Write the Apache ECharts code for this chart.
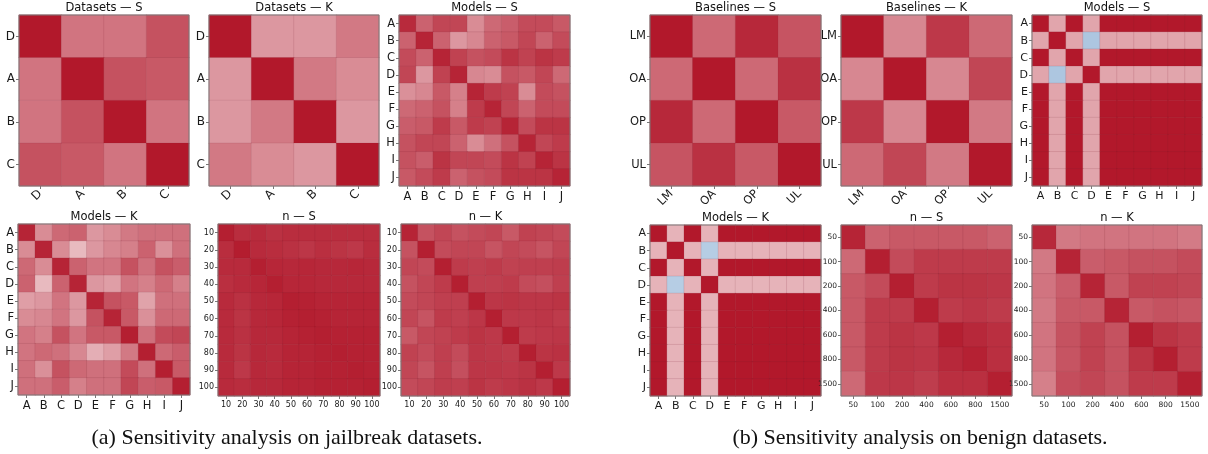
<!DOCTYPE html>
<html>
<head>
<meta charset="utf-8">
<script src="https://cdn.jsdelivr.net/npm/echarts@6/dist/echarts.min.js"></script>
<style>
  html, body { margin: 0; padding: 0; background: #ffffff; }
  #chart { width: 1208px; height: 454px; }
</style>
</head>
<body>
<div id="chart"></div>
<script>
// ---- tick labels ----
const letterLabels = ['A', 'B', 'C', 'D', 'E', 'F', 'G', 'H', 'I', 'J'];
const datasetLabels = ['D', 'A', 'B', 'C'];
const baselineLabels = ['LM', 'OA', 'OP', 'UL'];
const nJailbreakLabels = ['10', '20', '30', '40', '50', '60', '70', '80', '90', '100'];
const nBenignLabels = ['50', '100', '200', '400', '600', '800', '1500'];

// ---- (a) jailbreak datasets: similarity matrices (rows top to bottom) ----
const datasetsS = [
  [1.00, 0.60, 0.60, 0.75],
  [0.60, 1.00, 0.75, 0.72],
  [0.60, 0.75, 1.00, 0.60],
  [0.75, 0.72, 0.60, 1.00]
];
const datasetsK = [
  [1.00, 0.45, 0.45, 0.58],
  [0.45, 1.00, 0.58, 0.50],
  [0.45, 0.58, 1.00, 0.45],
  [0.58, 0.50, 0.45, 1.00]
];
const modelsSJailbreak = [
  [0.92, 0.68, 0.80, 0.80, 0.50, 0.65, 0.70, 0.78, 0.78, 0.72],
  [0.68, 0.95, 0.68, 0.45, 0.52, 0.68, 0.72, 0.80, 0.68, 0.78],
  [0.78, 0.68, 0.95, 0.82, 0.75, 0.78, 0.88, 0.82, 0.88, 0.85],
  [0.80, 0.45, 0.82, 0.95, 0.52, 0.50, 0.75, 0.72, 0.80, 0.65],
  [0.48, 0.52, 0.72, 0.55, 0.95, 0.85, 0.82, 0.50, 0.78, 0.75],
  [0.65, 0.68, 0.75, 0.55, 0.85, 0.95, 0.80, 0.68, 0.78, 0.78],
  [0.70, 0.72, 0.85, 0.72, 0.85, 0.82, 0.95, 0.78, 0.88, 0.88],
  [0.75, 0.80, 0.80, 0.68, 0.50, 0.62, 0.75, 0.95, 0.80, 0.85],
  [0.75, 0.70, 0.88, 0.80, 0.80, 0.78, 0.88, 0.82, 0.95, 0.88],
  [0.72, 0.78, 0.85, 0.68, 0.75, 0.78, 0.88, 0.88, 0.88, 0.95]
];
const modelsKJailbreak = [
  [0.95, 0.50, 0.65, 0.68, 0.45, 0.50, 0.58, 0.62, 0.62, 0.62],
  [0.50, 0.95, 0.50, 0.30, 0.45, 0.52, 0.55, 0.68, 0.48, 0.62],
  [0.65, 0.50, 0.95, 0.68, 0.60, 0.60, 0.75, 0.62, 0.75, 0.70],
  [0.68, 0.30, 0.68, 0.95, 0.45, 0.42, 0.60, 0.55, 0.65, 0.55],
  [0.42, 0.45, 0.60, 0.45, 0.95, 0.75, 0.72, 0.40, 0.62, 0.62],
  [0.50, 0.52, 0.60, 0.45, 0.75, 0.95, 0.72, 0.48, 0.65, 0.65],
  [0.60, 0.55, 0.75, 0.60, 0.72, 0.72, 0.97, 0.62, 0.78, 0.80],
  [0.60, 0.65, 0.62, 0.52, 0.35, 0.42, 0.58, 0.97, 0.65, 0.70],
  [0.62, 0.48, 0.75, 0.65, 0.62, 0.62, 0.78, 0.62, 0.97, 0.72],
  [0.62, 0.62, 0.70, 0.55, 0.62, 0.62, 0.80, 0.70, 0.72, 0.97]
];
const nSJailbreak = [
  [0.97, 0.91, 0.92, 0.89, 0.91, 0.91, 0.91, 0.91, 0.91, 0.91],
  [0.91, 0.98, 0.92, 0.91, 0.89, 0.87, 0.90, 0.88, 0.86, 0.91],
  [0.92, 0.92, 0.97, 0.94, 0.93, 0.94, 0.93, 0.93, 0.94, 0.93],
  [0.90, 0.92, 0.94, 0.97, 0.94, 0.94, 0.93, 0.93, 0.93, 0.93],
  [0.92, 0.89, 0.93, 0.94, 0.97, 0.96, 0.95, 0.95, 0.95, 0.95],
  [0.92, 0.88, 0.93, 0.94, 0.96, 0.97, 0.96, 0.95, 0.95, 0.95],
  [0.92, 0.89, 0.93, 0.93, 0.95, 0.96, 0.97, 0.96, 0.96, 0.96],
  [0.92, 0.88, 0.93, 0.92, 0.95, 0.95, 0.96, 0.97, 0.96, 0.96],
  [0.92, 0.86, 0.93, 0.92, 0.95, 0.95, 0.96, 0.96, 0.97, 0.96],
  [0.92, 0.91, 0.93, 0.93, 0.95, 0.95, 0.96, 0.96, 0.96, 0.97]
];
const nKJailbreak = [
  [0.95, 0.75, 0.80, 0.75, 0.78, 0.80, 0.72, 0.82, 0.80, 0.78],
  [0.75, 0.97, 0.78, 0.80, 0.80, 0.74, 0.80, 0.78, 0.74, 0.80],
  [0.80, 0.78, 0.97, 0.85, 0.83, 0.85, 0.82, 0.83, 0.83, 0.84],
  [0.75, 0.80, 0.85, 0.97, 0.83, 0.83, 0.85, 0.78, 0.76, 0.83],
  [0.78, 0.80, 0.83, 0.83, 0.97, 0.87, 0.88, 0.87, 0.87, 0.88],
  [0.80, 0.74, 0.85, 0.83, 0.87, 0.97, 0.86, 0.86, 0.87, 0.85],
  [0.72, 0.80, 0.82, 0.85, 0.88, 0.86, 0.97, 0.85, 0.86, 0.87],
  [0.82, 0.78, 0.83, 0.78, 0.87, 0.86, 0.85, 0.97, 0.88, 0.89],
  [0.80, 0.74, 0.83, 0.76, 0.87, 0.87, 0.86, 0.88, 0.97, 0.86],
  [0.78, 0.80, 0.84, 0.83, 0.88, 0.85, 0.87, 0.89, 0.86, 0.97]
];

// ---- (b) benign datasets ----
const baselinesS = [
  [1.00, 0.65, 0.93, 0.74],
  [0.65, 1.00, 0.65, 0.89],
  [0.93, 0.65, 1.00, 0.72],
  [0.74, 0.89, 0.72, 1.00]
];
const baselinesK = [
  [1.00, 0.52, 0.86, 0.65],
  [0.52, 1.00, 0.52, 0.80],
  [0.86, 0.52, 1.00, 0.58],
  [0.65, 0.80, 0.58, 1.00]
];
const modelsSBenign = [
  [1.00, 0.39, 1.00, 0.39, 1.00, 1.00, 1.00, 1.00, 1.00, 1.00],
  [0.39, 1.00, 0.39, -0.37, 0.39, 0.39, 0.39, 0.39, 0.39, 0.39],
  [1.00, 0.39, 1.00, 0.39, 1.00, 1.00, 1.00, 1.00, 1.00, 1.00],
  [0.39, -0.37, 0.39, 1.00, 0.39, 0.39, 0.39, 0.39, 0.39, 0.39],
  [1.00, 0.39, 1.00, 0.39, 1.00, 1.00, 1.00, 1.00, 1.00, 1.00],
  [1.00, 0.39, 1.00, 0.39, 1.00, 1.00, 1.00, 1.00, 1.00, 1.00],
  [1.00, 0.39, 1.00, 0.39, 1.00, 1.00, 1.00, 1.00, 1.00, 1.00],
  [1.00, 0.39, 1.00, 0.39, 1.00, 1.00, 1.00, 1.00, 1.00, 1.00],
  [1.00, 0.39, 1.00, 0.39, 1.00, 1.00, 1.00, 1.00, 1.00, 1.00],
  [1.00, 0.39, 1.00, 0.39, 1.00, 1.00, 1.00, 1.00, 1.00, 1.00]
];
const modelsKBenign = [
  [1.00, 0.33, 1.00, 0.33, 1.00, 1.00, 1.00, 1.00, 1.00, 1.00],
  [0.33, 1.00, 0.33, -0.33, 0.33, 0.33, 0.33, 0.33, 0.33, 0.33],
  [1.00, 0.33, 1.00, 0.33, 1.00, 1.00, 1.00, 1.00, 1.00, 1.00],
  [0.33, -0.33, 0.33, 1.00, 0.33, 0.33, 0.33, 0.33, 0.33, 0.33],
  [1.00, 0.33, 1.00, 0.33, 1.00, 1.00, 1.00, 1.00, 1.00, 1.00],
  [1.00, 0.33, 1.00, 0.33, 1.00, 1.00, 1.00, 1.00, 1.00, 1.00],
  [1.00, 0.33, 1.00, 0.33, 1.00, 1.00, 1.00, 1.00, 1.00, 1.00],
  [1.00, 0.33, 1.00, 0.33, 1.00, 1.00, 1.00, 1.00, 1.00, 1.00],
  [1.00, 0.33, 1.00, 0.33, 1.00, 1.00, 1.00, 1.00, 1.00, 1.00],
  [1.00, 0.33, 1.00, 0.33, 1.00, 1.00, 1.00, 1.00, 1.00, 1.00]
];
const nSBenign = [
  [0.95, 0.68, 0.72, 0.72, 0.72, 0.72, 0.68],
  [0.65, 0.97, 0.78, 0.85, 0.85, 0.85, 0.85],
  [0.72, 0.78, 0.97, 0.85, 0.88, 0.88, 0.87],
  [0.72, 0.85, 0.85, 0.97, 0.85, 0.87, 0.85],
  [0.72, 0.85, 0.88, 0.86, 0.97, 0.93, 0.90],
  [0.72, 0.85, 0.88, 0.87, 0.93, 0.96, 0.90],
  [0.65, 0.86, 0.87, 0.84, 0.90, 0.90, 0.97]
];
const nKBenign = [
  [0.93, 0.58, 0.60, 0.60, 0.60, 0.60, 0.57],
  [0.58, 0.95, 0.70, 0.72, 0.75, 0.75, 0.78],
  [0.60, 0.70, 0.95, 0.72, 0.82, 0.82, 0.80],
  [0.58, 0.72, 0.72, 0.95, 0.72, 0.75, 0.73],
  [0.60, 0.75, 0.82, 0.75, 0.97, 0.88, 0.85],
  [0.60, 0.74, 0.82, 0.75, 0.88, 0.97, 0.85],
  [0.55, 0.77, 0.80, 0.75, 0.85, 0.85, 0.97]
];

// ---- panel layout: box = [left, top, width, height] in px ----
const panels = [
  { title: 'Datasets — S',  labels: datasetLabels,    values: datasetsS,        box: [19, 15, 170, 171],   rotate: 45, font: 12 },
  { title: 'Datasets — K',  labels: datasetLabels,    values: datasetsK,        box: [209, 15, 170, 171],  rotate: 45, font: 12 },
  { title: 'Models — S',    labels: letterLabels,     values: modelsSJailbreak, box: [399, 15, 171, 171],  rotate: 0,  font: 11.5 },
  { title: 'Models — K',    labels: letterLabels,     values: modelsKJailbreak, box: [18, 224, 172, 171],  rotate: 0,  font: 11.5 },
  { title: 'n — S',         labels: nJailbreakLabels, values: nSJailbreak,      box: [218, 224, 162, 172], rotate: 0,  font: 8 },
  { title: 'n — K',         labels: nJailbreakLabels, values: nKJailbreak,      box: [401, 224, 169, 172], rotate: 0,  font: 8 },
  { title: 'Baselines — S', labels: baselineLabels,   values: baselinesS,       box: [650, 15, 171, 171],  rotate: 45, font: 11.5 },
  { title: 'Baselines — K', labels: baselineLabels,   values: baselinesK,       box: [841, 15, 171, 171],  rotate: 45, font: 11.5 },
  { title: 'Models — S',    labels: letterLabels,     values: modelsSBenign,    box: [1032, 15, 170, 171], rotate: 0,  font: 11 },
  { title: 'Models — K',    labels: letterLabels,     values: modelsKBenign,    box: [650, 225, 171, 171], rotate: 0,  font: 11 },
  { title: 'n — S',         labels: nBenignLabels,    values: nSBenign,         box: [841, 225, 171, 171], rotate: 0,  font: 7.5 },
  { title: 'n — K',         labels: nBenignLabels,    values: nKBenign,         box: [1032, 225, 170, 171], rotate: 0, font: 7.5 }
];

const captions = [
  { text: '(a) Sensitivity analysis on jailbreak datasets.', x: 287, y: 438 },
  { text: '(b) Sensitivity analysis on benign datasets.', x: 920, y: 438 }
];

const sansFont = '"DejaVu Sans", sans-serif';

const grids = [], xAxes = [], yAxes = [], series = [], graphics = [];

panels.forEach((p, k) => {
  const [l, t, w, h] = p.box;
  grids.push({ left: l, top: t, width: w, height: h, containLabel: false });

  const tick = { show: true, alignWithLabel: true, length: 3, lineStyle: { color: '#555', width: 0.8 } };
  xAxes.push({
    type: 'category', gridIndex: k, data: p.labels, position: 'bottom',
    axisLine: { show: false }, axisTick: tick, splitLine: { show: false },
    axisLabel: {
      fontSize: p.font, color: '#1a1a1a', fontFamily: sansFont,
      rotate: p.rotate, margin: p.rotate ? 6 : 5, interval: 0
    }
  });
  yAxes.push({
    type: 'category', gridIndex: k, data: p.labels, inverse: true, z: 5,
    axisLine: { show: false }, axisTick: tick, splitLine: { show: false },
    axisLabel: { fontSize: p.font, color: '#1a1a1a', fontFamily: sansFont, margin: 4, interval: 0 }
  });

  const data = [];
  p.values.forEach((row, i) => row.forEach((v, j) => data.push([j, i, v])));
  series.push({
    type: 'heatmap', xAxisIndex: k, yAxisIndex: k, data: data,
    itemStyle: { borderColor: 'rgba(120,40,55,0.22)', borderWidth: 0.6 },
    emphasis: { disabled: true }, silent: true
  });

  // frame around each matrix
  graphics.push({
    type: 'rect', z: 100, silent: true,
    shape: { x: l, y: t, width: w, height: h },
    style: { fill: 'none', stroke: '#7a7a7a', lineWidth: 1 }
  });
  // panel title
  graphics.push({
    type: 'text', z: 100, silent: true,
    x: l + w / 2, y: t - 7,
    style: {
      text: p.title, fill: '#111', font: '11.5px ' + sansFont,
      textAlign: 'center', textVerticalAlign: 'middle'
    }
  });
});

captions.forEach(c => {
  graphics.push({
    type: 'text', z: 100, silent: true, x: c.x, y: c.y,
    style: {
      text: c.text, fill: '#111', font: '22px "Liberation Serif", "DejaVu Serif", serif',
      textAlign: 'center', textVerticalAlign: 'middle'
    }
  });
});

const chart = echarts.init(document.getElementById('chart'), null, { renderer: 'canvas' });
chart.setOption({
  animation: false,
  backgroundColor: '#ffffff',
  grid: grids,
  xAxis: xAxes,
  yAxis: yAxes,
  visualMap: {
    type: 'continuous', show: false, min: -1, max: 1,
    seriesIndex: series.map((_, i) => i),
    inRange: { color: ['#2166ac', '#ffffff', '#b2182b'] }
  },
  series: series,
  graphic: graphics
});
</script>
</body>
</html>
